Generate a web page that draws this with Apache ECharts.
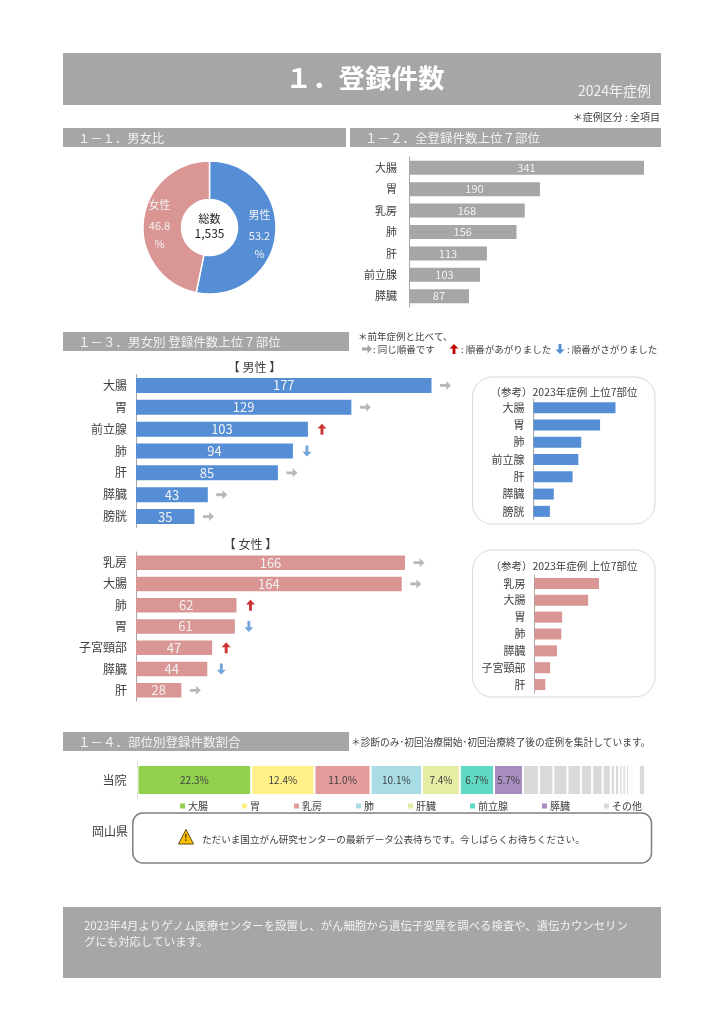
<!DOCTYPE html>
<html><head><meta charset="utf-8">
<style>html,body{margin:0;padding:0;background:#fff}#c{width:724px;height:1024px}</style>
<script src="https://cdn.jsdelivr.net/npm/echarts@6/dist/echarts.min.js"></script>
</head><body><div id="c"></div>
<script>
const sexNames = ['男性','女性'];
const sexShares = [53.2,46.8];
const totalLabel = '1,535';
const allCats = ['大腸','胃','乳房','肺','肝','前立腺','膵臓'];
const allVals = [341,190,168,156,113,103,87];
const maleCats = ['大腸','胃','前立腺','肺','肝','膵臓','膀胱'];
const maleVals = [177,129,103,94,85,43,35];
const maleTrend = ['same','same','up','down','same','same','same'];
const femaleCats = ['乳房','大腸','肺','胃','子宮頸部','膵臓','肝'];
const femaleVals = [166,164,62,61,47,44,28];
const femaleTrend = ['same','same','up','down','up','down','same'];
const malePrevCats = ['大腸','胃','肺','前立腺','肝','膵臓','膀胱'];
const malePrevVals = [170,138,99,93,81,42,34];
const femalePrevCats = ['乳房','大腸','胃','肺','膵臓','子宮頸部','肝'];
const femalePrevVals = [161,134,69,67,56,39,27];
const siteNames = ['大腸','胃','乳房','肺','肝臓','前立腺','膵臓'];
const siteShares = [22.3,12.4,11.0,10.1,7.4,6.7,5.7];
const otherShares = [3.1,2.85,2.75,2.65,2.2,2.05,1.6,0.8,0.85,0.65,0.65,0.6,0.35,0.4,1.2,1.25];
const otherGapIndex = 14;

const FONT = '"Noto Sans CJK JP","Noto Sans",sans-serif';
const DARK = '#404040', BAND = '#a6a6a6', BLUE = '#558ed5', PINK = '#d99694';
const SITE_COLORS = ['#92d050','#fff088','#e39b9b','#a9dde6','#e6eca2','#60d9c4','#a78dc1'];
const ARROW = 'path://M0 3.4 L5.6 3.4 L5.6 0 L10 5 L5.6 10 L5.6 6.6 L0 6.6 Z';
const TREND = {same:{c:'#a6a6a6',r:0},up:{c:'#c00000',r:90},down:{c:'#4f8ed0',r:-90}};

const grids=[],xAxes=[],yAxes=[],series=[];
function barChart(o){
  const i=grids.length;
  grids.push({left:o.x,top:o.y,width:o.w,height:o.h});
  xAxes.push({gridIndex:i,type:'value',min:0,max:o.max||Math.max(...o.vals),show:false});
  yAxes.push({gridIndex:i,type:'category',inverse:true,data:o.cats,
    axisLine:{show:true,lineStyle:{color:'#a6a6a6',width:1}},axisTick:{show:false},
    axisLabel:{color:DARK,fontSize:o.catSize,margin:o.margin,fontFamily:FONT}});
  series.push({type:'bar',xAxisIndex:i,yAxisIndex:i,data:o.vals,barWidth:o.bw,
    itemStyle:{color:o.color},
    label:o.labelSize?{show:true,position:'inside',color:'#f2f2f2',fontSize:o.labelSize,fontFamily:FONT}:{show:false}});
  if(o.trend){
    series.push({type:'scatter',xAxisIndex:i,yAxisIndex:i,silent:true,
      data:o.vals.map((v,k)=>({value:[v,o.cats[k]],symbolRotate:TREND[o.trend[k]].r,itemStyle:{color:TREND[o.trend[k]].c}})),
      symbol:ARROW,symbolSize:[11,9],symbolOffset:[14,0]});
  }
}
barChart({x:409,y:157,w:235,h:150,cats:allCats,vals:allVals,bw:14,color:BAND,catSize:11,margin:12,labelSize:11});
barChart({x:136,y:374.5,w:295.5,h:153,cats:maleCats,vals:maleVals,bw:15,color:BLUE,catSize:12,margin:9,labelSize:13,trend:maleTrend});
barChart({x:136,y:552,w:269,h:149,cats:femaleCats,vals:femaleVals,bw:14.5,color:PINK,catSize:12,margin:9,labelSize:13,trend:femaleTrend});
barChart({x:533.5,y:399,w:82,h:121,cats:malePrevCats,vals:malePrevVals,bw:11,color:BLUE,catSize:11,margin:9});
barChart({x:534.5,y:575,w:64.5,h:118,cats:femalePrevCats,vals:femalePrevVals,bw:11,color:PINK,catSize:11,margin:9});

// 100% stacked bar
const si=grids.length;
grids.push({left:137.5,top:762,width:510,height:36});
xAxes.push({gridIndex:si,type:'value',min:0,max:100,show:false});
yAxes.push({gridIndex:si,type:'category',data:['当院'],
  axisLine:{show:true,lineStyle:{color:'#d9d9d9'}},axisTick:{show:false},
  axisLabel:{color:DARK,fontSize:12,margin:11,fontFamily:FONT}});
siteNames.forEach((n,k)=>series.push({type:'bar',name:n,stack:'s',xAxisIndex:si,yAxisIndex:si,barWidth:30,
  data:[siteShares[k]],itemStyle:{color:SITE_COLORS[k],borderColor:'#fff',borderWidth:1},
  label:{show:true,position:'inside',color:'#404040',fontSize:10,fontFamily:FONT,formatter:p=>p.value.toFixed(1)+'%'}}));
otherShares.forEach((v,k)=>series.push({type:'bar',name:'その他',stack:'s',xAxisIndex:si,yAxisIndex:si,barWidth:30,
  data:[v],itemStyle:{color:k===otherGapIndex?'rgba(255,255,255,0)':'#d9d9d9',borderColor:'#fff',borderWidth:1}}));

series.push({type:'pie',center:[209.5,227.5],radius:[28,66.5],startAngle:90,clockwise:true,silent:true,
  data:sexNames.map((n,k)=>({name:n,value:sexShares[k],itemStyle:{color:k?PINK:BLUE,borderColor:'#fff',borderWidth:1.5}})),
  label:{position:'inside',fontFamily:FONT,color:'#eef2f8',fontSize:11,
    formatter:p=>`{a|${p.name}}\n{b|${p.value}}\n{b|%}`,
    rich:{a:{fontSize:11,lineHeight:24,color:'#f2f2f2',fontFamily:FONT},b:{fontSize:11,lineHeight:18,color:'#f2f2f2',fontFamily:FONT}}},
  labelLine:{show:false}});

const rect=(x,y,w,h,fill)=>({type:'rect',shape:{x,y,width:w,height:h},style:{fill},z:-1,silent:true});
const box=(x,y,w,h,r,stroke,lw)=>({type:'rect',shape:{x,y,width:w,height:h,r},style:{fill:'transparent',stroke,lineWidth:lw},silent:true});
const txt=(x,y,text,size,fill,align,weight)=>({type:'text',x,y,silent:true,z:5,
  style:{text,fontSize:size,fill,align:align||'left',verticalAlign:'middle',fontFamily:FONT,fontWeight:weight||'normal'}});
const arrowG=(x,y,key)=>({type:'polygon',silent:true,z:5,x,y,rotation:TREND[key].r*Math.PI/180,
  shape:{points:[[-5,-1.4],[0.6,-1.4],[0.6,-4.5],[5,0],[0.6,4.5],[0.6,1.4],[-5,1.4]]},
  style:{fill:TREND[key].c}});

const graphic=[
  rect(63,53,598,52,BAND),
  txt(365,78,'１．登録件数',26.5,'#fff','center','bold'),
  txt(651,91,'2024年症例',14,'#f2f2f2','right'),
  txt(660,117,'＊症例区分 : 全項目',10,DARK,'right'),
  rect(63,128,283,19,BAND), txt(78,138,'１－１．男女比',12.3,'#f2f2f2'),
  rect(350,128,311,19,BAND), txt(365,138,'１－２．全登録件数上位７部位',12.5,'#f2f2f2'),
  txt(209.5,219,'総数',11,'#262626','center'),
  txt(209.5,233,totalLabel,12,'#262626','center'),
  rect(63,332,286,19,BAND), txt(78,342,'１－３．男女別 登録件数上位７部位',12.5,'#f2f2f2'),
  txt(358,336,'＊前年症例と比べて、',9.5,DARK),
  arrowG(367,349,'same'), txt(373,349,': 同じ順番です',9.5,DARK),
  arrowG(454,349,'up'), txt(461,349,': 順番があがりました',9.5,DARK),
  arrowG(560,349,'down'), txt(567,349,': 順番がさがりました',9.5,DARK),
  txt(254.5,367,'【 男性 】',12,DARK,'center'),
  txt(250.5,544,'【 女性 】',12,DARK,'center'),
  box(472.5,377,182.5,147,20,'#d9d9d9',1),
  txt(564,392,'（参考）2023年症例 上位7部位',10.5,DARK,'center'),
  box(472.5,550,182.5,147,20,'#d9d9d9',1),
  txt(564,566,'（参考）2023年症例 上位7部位',10.5,DARK,'center'),
  rect(63,732,286,19,BAND), txt(78,742,'１－４．部位別登録件数割合',12.5,'#f2f2f2'),
  txt(351,742,'＊診断のみ･初回治療開始･初回治療終了後の症例を集計しています。',9.7,DARK),
  txt(128,831,'岡山県',12,DARK,'right'),
  box(132.8,813,518.7,50,10,'#7f7f7f',1.5),
  {type:'polygon',silent:true,z:5,shape:{points:[[186,829.5],[193.5,844],[178.5,844]]},style:{fill:'#ffc000',stroke:'#5a4a10',lineWidth:1,lineJoin:'round'}},
  txt(186,838,'!',9,'#3f3000','center','bold'),
  txt(202,839,'ただいま国立がん研究センターの最新データ公表待ちです。今しばらくお待ちください。',9.6,DARK),
  rect(63,907,598,71,BAND),
  txt(84,926,'2023年4月よりゲノム医療センターを設置し、がん細胞から遺伝子変異を調べる検査や、遺伝カウンセリン',11.4,'#f2f2f2'),
  txt(84,942,'グにも対応しています。',11.4,'#f2f2f2')
];

const chart=echarts.init(document.getElementById('c'),null,{renderer:'canvas'});
chart.setOption({animation:false,backgroundColor:'#fff',textStyle:{fontFamily:FONT},
  grid:grids,xAxis:xAxes,yAxis:yAxes,series,graphic,
  legend:{left:175,top:796,itemWidth:5,itemHeight:5,itemGap:34,icon:'rect',selectedMode:false,
    data:[...siteNames,'その他'].map(name=>({name,itemStyle:name==='その他'?{color:'#d9d9d9',borderWidth:0}:{borderWidth:0}})),
    textStyle:{fontSize:10,color:DARK,padding:[0,0,0,-2],fontFamily:FONT}}
});
</script></body></html>
